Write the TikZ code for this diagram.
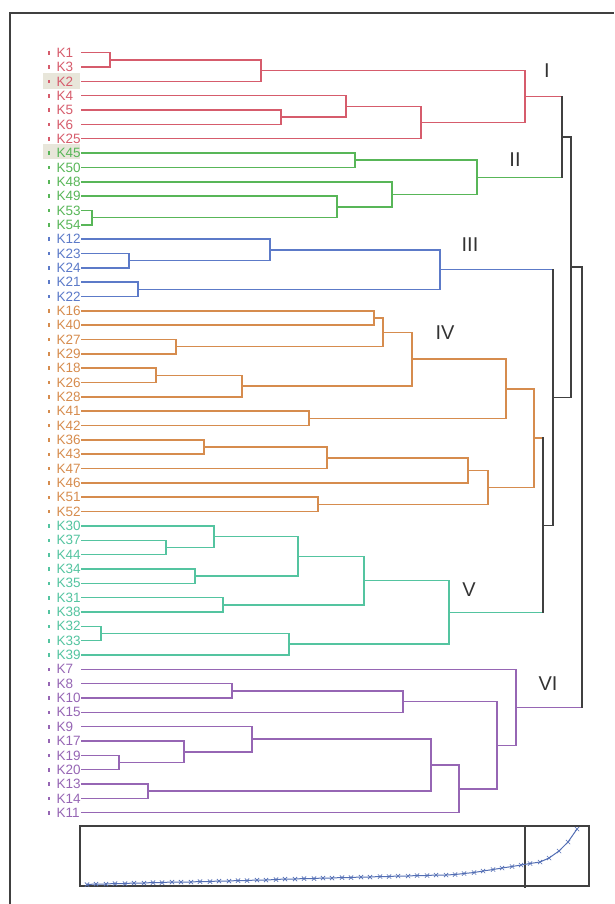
\documentclass[tikz,border=0pt]{standalone}
\usepackage{fontspec}
\setmainfont{Liberation Sans}
\usetikzlibrary{calc}

\definecolor{cI}{RGB}{214,92,108}
\definecolor{cII}{RGB}{88,182,88}
\definecolor{cIII}{RGB}{92,122,200}
\definecolor{cIV}{RGB}{214,140,78}
\definecolor{cV}{RGB}{84,196,160}
\definecolor{cVI}{RGB}{150,102,180}
\definecolor{linkgray}{RGB}{64,64,64}
\definecolor{hilite}{RGB}{232,230,218}

% merge of two children at abscissa #2
\newcommand{\branch}[5]{%
  \path let \p1=(#3), \p2=(#4) in (#2,{(\y1+\y2)/2}) coordinate (#1);
  \draw[tree, #5] (#3) -| (#1) |- (#4);
}
% merge of two clusters, vertical part in gray
\newcommand{\topbranch}[6]{%
  \path let \p1=(#3), \p2=(#4) in (#2,{(\y1+\y2)/2}) coordinate (#1);
  \draw[tree, #5] (#3) -- (#3 -| #1);
  \draw[tree, #6] (#4) -- (#4 -| #1);
  \draw[tree, linkgray] (#3 -| #1) -- (#4 -| #1);
}

\begin{document}
\begin{tikzpicture}[x=1pt, y=-1pt,
    tree/.style={line width=1.5pt, line cap=rect},
    leaf/.style={anchor=west, inner sep=0pt, text width=25pt, align=left,
                 font=\fontsize{13.5}{15}\selectfont},
    numeral/.style={inner sep=0pt, text=black!80, font=\fontsize{20}{22}\selectfont},
    frame/.style={line width=1.3pt, linkgray}]
    \useasboundingbox (0,0) rectangle (614,904);

    % Cadre
    \draw[frame] (10,904) -- (10,13) -- (614,13);

    % Surlignage K2 et K45
    \fill[hilite] (43,73) rectangle (80,89);
    \fill[hilite] (43,144) rectangle (80,159);

    % Feuilles
    \foreach \n [count=\i from 0] in {1,3,2,4,5,6,25}
      {\fill[cI] (47.5,51+14.34*\i) rectangle ++(2.6,3.6);
       \node[leaf, text=cI] (k\n) at (56.5,52.7+14.34*\i) {K\n};}
    \foreach \n [count=\i from 7] in {45,50,48,49,53,54}
      {\fill[cII] (47.5,51+14.34*\i) rectangle ++(2.6,3.6);
       \node[leaf, text=cII] (k\n) at (56.5,52.7+14.34*\i) {K\n};}
    \foreach \n [count=\i from 13] in {12,23,24,21,22}
      {\fill[cIII] (47.5,51+14.34*\i) rectangle ++(2.6,3.6);
       \node[leaf, text=cIII] (k\n) at (56.5,52.7+14.34*\i) {K\n};}
    \foreach \n [count=\i from 18] in {16,40,27,29,18,26,28,41,42,36,43,47,46,51,52}
      {\fill[cIV] (47.5,51+14.34*\i) rectangle ++(2.6,3.6);
       \node[leaf, text=cIV] (k\n) at (56.5,52.7+14.34*\i) {K\n};}
    \foreach \n [count=\i from 33] in {30,37,44,34,35,31,38,32,33,39}
      {\fill[cV] (47.5,51+14.34*\i) rectangle ++(2.6,3.6);
       \node[leaf, text=cV] (k\n) at (56.5,52.7+14.34*\i) {K\n};}
    \foreach \n [count=\i from 43] in {7,8,10,15,9,17,19,20,13,14,11}
      {\fill[cVI] (47.5,51+14.34*\i) rectangle ++(2.6,3.6);
       \node[leaf, text=cVI] (k\n) at (56.5,52.7+14.34*\i) {K\n};}

    % Groupe I
    \branch{a1}{110}{k1}{k3}{cI}
    \branch{a2}{261}{a1}{k2}{cI}
    \branch{a3}{281}{k5}{k6}{cI}
    \branch{a4}{346}{k4}{a3}{cI}
    \branch{a5}{421}{a4}{k25}{cI}
    \branch{a6}{525}{a2}{a5}{cI}

    % Groupe II
    \branch{b1}{355}{k45}{k50}{cII}
    \branch{b2}{92}{k53}{k54}{cII}
    \branch{b3}{337}{k49}{b2}{cII}
    \branch{b4}{392}{k48}{b3}{cII}
    \branch{b5}{477}{b1}{b4}{cII}

    % Groupe III
    \branch{c1}{129}{k23}{k24}{cIII}
    \branch{c2}{270}{k12}{c1}{cIII}
    \branch{c3}{138}{k21}{k22}{cIII}
    \branch{c4}{440}{c2}{c3}{cIII}

    % Groupe IV
    \branch{d1}{374}{k16}{k40}{cIV}
    \branch{d2}{176}{k27}{k29}{cIV}
    \branch{d3}{383}{d1}{d2}{cIV}
    \branch{d4}{156}{k18}{k26}{cIV}
    \branch{d5}{242}{d4}{k28}{cIV}
    \branch{d6}{412}{d3}{d5}{cIV}
    \branch{d7}{309}{k41}{k42}{cIV}
    \branch{d8}{506}{d6}{d7}{cIV}
    \branch{d9}{204}{k36}{k43}{cIV}
    \branch{d10}{327}{d9}{k47}{cIV}
    \branch{d11}{468}{d10}{k46}{cIV}
    \branch{d12}{318}{k51}{k52}{cIV}
    \branch{d13}{488}{d11}{d12}{cIV}
    \branch{d14}{534}{d8}{d13}{cIV}

    % Groupe V
    \branch{e1}{166}{k37}{k44}{cV}
    \branch{e2}{214}{k30}{e1}{cV}
    \branch{e3}{195}{k34}{k35}{cV}
    \branch{e4}{298}{e2}{e3}{cV}
    \branch{e5}{223}{k31}{k38}{cV}
    \branch{e6}{364}{e4}{e5}{cV}
    \branch{e7}{101}{k32}{k33}{cV}
    \branch{e8}{289}{e7}{k39}{cV}
    \branch{e9}{449}{e6}{e8}{cV}

    % Groupe VI
    \branch{f1}{232}{k8}{k10}{cVI}
    \branch{f2}{403}{f1}{k15}{cVI}
    \branch{f3}{119}{k19}{k20}{cVI}
    \branch{f4}{184}{k17}{f3}{cVI}
    \branch{f5}{252}{k9}{f4}{cVI}
    \branch{f6}{148}{k13}{k14}{cVI}
    \branch{f7}{431}{f5}{f6}{cVI}
    \branch{f8}{459}{f7}{k11}{cVI}
    \branch{f9}{497}{f2}{f8}{cVI}
    \branch{f10}{516}{k7}{f9}{cVI}

    % Liaisons entre groupes
    \topbranch{t1}{562}{a6}{b5}{cI}{cII}
    \topbranch{t2}{543}{d14}{e9}{cIV}{cV}
    \topbranch{t3}{553}{c4}{t2}{cIII}{linkgray}
    \topbranch{t4}{571}{t1}{t3}{linkgray}{linkgray}
    \topbranch{t5}{582}{t4}{f10}{linkgray}{cVI}

    % Numeros des groupes
    \node[numeral] (rI) at (547,71) {I};
    \node[numeral] (rII) at (515,160) {II};
    \node[numeral] (rIII) at (470,245) {III};
    \node[numeral] (rIV) at (445,333) {IV};
    \node[numeral] (rV) at (469,590) {V};
    \node[numeral] (rVI) at (548,684) {VI};

    % Courbe des niveaux d'agregation
    \draw[frame] (80,826) rectangle (589,886);
    \draw[frame] (525,826) -- (525,888);
    \draw[cIII!90!black, line width=1pt]
      plot[mark=x, mark size=3pt, mark options={line width=0.7pt}] coordinates {
        (87,884.5) (96,884) (106,884) (115,883.5) (125,883.5) (134,883) (144,883)
        (153,882.5) (162,882.5) (172,882) (181,882) (191,882) (200,881.5) (210,881.5)
        (219,881) (229,881) (238,880.5) (247,880.5) (257,880) (266,880) (276,879.5)
        (285,879) (295,879) (304,878.5) (314,878.5) (323,878) (332,878) (342,877.5)
        (351,877.5) (361,877) (370,877) (380,876.5) (389,876.5) (398,876) (408,876)
        (417,875.5) (427,875.5) (436,875) (446,875) (455,874.5) (464,873.5) (474,872.5)
        (483,871) (493,869.5) (502,868) (512,866.5) (521,865) (530,863.5) (540,862)
        (549,858) (559,851) (568,842) (577,829)};
\end{tikzpicture}
\end{document}
